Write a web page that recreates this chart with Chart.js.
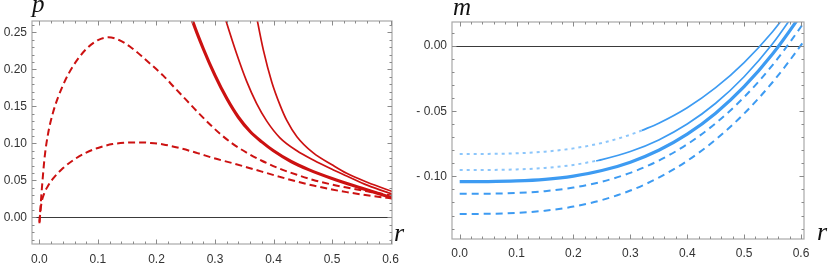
<!DOCTYPE html>
<html><head><meta charset="utf-8">
<script src="https://cdn.jsdelivr.net/npm/chart.js@4/dist/chart.umd.min.js"></script>
<style>
html,body{margin:0;padding:0;background:#fff;width:831px;height:263px;overflow:hidden;position:relative}
.wrap{position:absolute;top:0}
#w1{left:0;width:415px;height:263px}
#w2{left:410px;width:421px;height:263px}
.lab{position:absolute;font-family:"Liberation Serif","DejaVu Serif",serif;font-style:italic;font-size:25px;color:#111;line-height:25px;white-space:nowrap}
</style></head><body>
<div class="wrap" id="w1"><canvas id="c1" width="415" height="263"></canvas></div>
<div class="wrap" id="w2"><canvas id="c2" width="421" height="263"></canvas></div>
<span class="lab" style="left:32px;top:-9px">p</span>
<span class="lab" style="left:394px;top:220px;font-size:26px">r</span>
<span class="lab" style="left:453px;top:-6px">m</span>
<span class="lab" style="left:817px;top:219px;font-size:26px">r</span>
<script>
// ---------- tick labels ----------
const rTickVals = [0, 0.1, 0.2, 0.3, 0.4, 0.5, 0.6];
const rTickLabels = ["0.0", "0.1", "0.2", "0.3", "0.4", "0.5", "0.6"];
const rMinor = [0.02,0.04,0.06,0.08,0.12,0.14,0.16,0.18,0.22,0.24,0.26,0.28,0.32,0.34,0.36,0.38,0.42,0.44,0.46,0.48,0.52,0.54,0.56,0.58];
const pTickVals = [0, 0.05, 0.1, 0.15, 0.2, 0.25];
const pTickLabels = ["0.00", "0.05", "0.10", "0.15", "0.20", "0.25"];
const pMinor = [-0.03,-0.02,-0.01,0.01,0.02,0.03,0.04,0.06,0.07,0.08,0.09,0.11,0.12,0.13,0.14,0.16,0.17,0.18,0.19,0.21,0.22,0.23,0.24,0.26];
const mTickVals = [-0.1, -0.05, 0];
const mTickLabels = ["- 0.10", "- 0.05", "0.00"];
const mMinor = [-0.14,-0.13,-0.12,-0.11,-0.09,-0.08,-0.07,-0.06,-0.04,-0.03,-0.02,-0.01,0.01];

// ---------- left panel: p(r) ----------
const rDashBig = [0, 0.002, 0.005, 0.009, 0.015, 0.023, 0.04, 0.058, 0.08, 0.1, 0.1175, 0.135, 0.155, 0.18, 0.2116, 0.23, 0.2516, 0.27, 0.2915, 0.31, 0.331, 0.354, 0.38, 0.41, 0.44, 0.468, 0.5, 0.525, 0.56, 0.61];
const pDashBig = [-0.008, 0.016, 0.047, 0.082, 0.114, 0.141, 0.178, 0.205, 0.2275, 0.2395, 0.2432, 0.240, 0.2305, 0.2140, 0.1915, 0.176, 0.158, 0.1425, 0.1255, 0.112, 0.099, 0.0875, 0.0765, 0.066, 0.0575, 0.0505, 0.0443, 0.0403, 0.0352, 0.0285];
const rDashSmall = [0, 0.003, 0.008, 0.015, 0.025, 0.04, 0.06, 0.08, 0.1, 0.125, 0.15, 0.172, 0.19, 0.2116, 0.24, 0.27, 0.297, 0.33, 0.354, 0.38, 0.411, 0.44, 0.468, 0.5, 0.525, 0.56, 0.61];
const pDashSmall = [-0.006, 0.017, 0.032, 0.043, 0.054, 0.0662, 0.0785, 0.0875, 0.0938, 0.0990, 0.1010, 0.1013, 0.1005, 0.0985, 0.0935, 0.0868, 0.0802, 0.0732, 0.0678, 0.0618, 0.0547, 0.0484, 0.0430, 0.0376, 0.0341, 0.0299, 0.0247];
const rThick = [0.255, 0.2617, 0.28, 0.30, 0.32, 0.34, 0.36, 0.38, 0.40, 0.43, 0.46, 0.50, 0.55, 0.61];
const pThick = [0.282, 0.2653, 0.2278, 0.1918, 0.1608, 0.1352, 0.1160, 0.1020, 0.0900, 0.0755, 0.0645, 0.0525, 0.0395, 0.0245];
const rSolid2 = [0.314, 0.3189, 0.337, 0.354, 0.371, 0.3885, 0.411, 0.44, 0.468, 0.5, 0.525, 0.56, 0.61];
const pSolid2 = [0.278, 0.2653, 0.2210, 0.1840, 0.1540, 0.1300, 0.1075, 0.0900, 0.0775, 0.0650, 0.0560, 0.0435, 0.0295];
const rSolid3 = [0.369, 0.3725, 0.3827, 0.397, 0.411, 0.4227, 0.44, 0.468, 0.5, 0.525, 0.56, 0.61];
const pSolid3 = [0.280, 0.2653, 0.2260, 0.1830, 0.1520, 0.1310, 0.1090, 0.0870, 0.0710, 0.0595, 0.0475, 0.0330];

// ---------- right panel: m(r) ----------
const rA1 = [0, 0.05, 0.1, 0.15, 0.2, 0.25, 0.3, 0.32];
const mA1 = [-0.0828, -0.08274, -0.08228, -0.08102, -0.07851, -0.07433, -0.06803, -0.06482];
const rA2 = [0.32, 0.35, 0.4, 0.45, 0.5, 0.55, 0.6];
const mA2 = [-0.06482, -0.05917, -0.04729, -0.03195, -0.01268, 0.01098, 0.03948];
const rB1 = [0, 0.05, 0.1, 0.15, 0.2, 0.24];
const mB1 = [-0.0951, -0.09505, -0.09466, -0.09352, -0.09117, -0.08811];
const rB2 = [0.24, 0.25, 0.3, 0.35, 0.4, 0.45, 0.5, 0.55, 0.6];
const mB2 = [-0.08811, -0.08715, -0.08094, -0.07203, -0.05987, -0.04392, -0.02360, 0.00167, 0.03246];
const rC = [0, 0.05, 0.1, 0.15, 0.2, 0.25, 0.3, 0.35, 0.4, 0.45, 0.5, 0.55, 0.6, 0.61];
const mC = [-0.1040, -0.10394, -0.10350, -0.10226, -0.09975, -0.09551, -0.08906, -0.07991, -0.06756, -0.05150, -0.03121, -0.00620, 0.02409, 0.03082];
const rD = [0, 0.05, 0.1, 0.15, 0.2, 0.25, 0.3, 0.35, 0.4, 0.45, 0.5, 0.55, 0.6, 0.61];
const mD = [-0.1133, -0.11323, -0.11271, -0.11130, -0.10856, -0.10404, -0.09729, -0.08788, -0.07536, -0.05927, -0.03919, -0.01466, 0.01476, 0.02127];
const rE = [0, 0.05, 0.1, 0.15, 0.2, 0.25, 0.3, 0.35, 0.4, 0.45, 0.5, 0.55, 0.6, 0.61];
const mE = [-0.1288, -0.12869, -0.12802, -0.12631, -0.12315, -0.11812, -0.11085, -0.10095, -0.08805, -0.07179, -0.05183, -0.02781, 0.00061, 0.00686];

const RED = '#cc1111';
const BLUE = '#3d9bf2';
const LBLUE = '#8cc6fb';
const pts = (xs, ys) => xs.map((x, i) => ({x: x, y: ys[i]}));
const ds = (xs, ys, color, width, dash) => ({
  data: pts(xs, ys), borderColor: color, borderWidth: width, borderDash: dash || [],
  pointRadius: 0, fill: false, cubicInterpolationMode: 'monotone', clip: 0, borderCapStyle: 'butt'
});

const framePlugin = {
  id: 'frame',
  beforeDatasetsDraw(chart, args, o) {
    const {ctx, chartArea: a, scales} = chart;
    const y0 = Math.round(scales.y.getPixelForValue(0)) + 0.5;
    ctx.save();
    ctx.strokeStyle = '#3a3a3a'; ctx.lineWidth = 1;
    ctx.beginPath(); ctx.moveTo(a.left, y0); ctx.lineTo(a.right, y0); ctx.stroke();
    ctx.restore();
  },
  afterDatasetsDraw(chart, args, o) {
    const {ctx, chartArea: a, scales} = chart;
    const X = scales.x, Y = scales.y;
    ctx.save();
    ctx.strokeStyle = '#a8a8a8'; ctx.lineWidth = 1.2;
    ctx.strokeRect(a.left, a.top, a.right - a.left, a.bottom - a.top);
    ctx.strokeStyle = '#8a8a8a'; ctx.lineWidth = 1;
    const tick = (vals, len, isX) => {
      vals.forEach(v => {
        if (isX) {
          const px = Math.round(X.getPixelForValue(v)) + 0.5;
          ctx.beginPath();
          ctx.moveTo(px, a.bottom); ctx.lineTo(px, a.bottom - len);
          ctx.moveTo(px, a.top); ctx.lineTo(px, a.top + len);
          ctx.stroke();
        } else {
          const py = Math.round(Y.getPixelForValue(v)) + 0.5;
          ctx.beginPath();
          ctx.moveTo(a.left, py); ctx.lineTo(a.left + len, py);
          ctx.moveTo(a.right, py); ctx.lineTo(a.right - len, py);
          ctx.stroke();
        }
      });
    };
    tick(o.xMajor, 4.5, true); tick(o.xMinor, 2.5, true);
    tick(o.yMajor, 4.5, false); tick(o.yMinor, 2.5, false);
    ctx.restore();
  }
};

const tickFont = {family: '"Liberation Sans", Arial, sans-serif', size: 12};
function makeOptions(xr, yr, yVals, yLabels, yMinor, yWidth, pad) {
  return {
    responsive: false, animation: false, devicePixelRatio: 1,
    layout: {padding: {top: pad.top, right: pad.right, left: 0, bottom: 0}},
    plugins: {legend: {display: false}, tooltip: {enabled: false},
      frame: {xMajor: rTickVals, xMinor: rMinor, yMajor: yVals, yMinor: yMinor}},
    scales: {
      x: {type: 'linear', min: xr[0], max: xr[1],
        grid: {display: false, drawTicks: false}, border: {display: false},
        afterBuildTicks: s => { s.ticks = rTickVals.map(v => ({value: v})); },
        afterFit: s => { s.height = 263 - pad.top - pad.chartH; },
        ticks: {font: tickFont, color: '#333', padding: pad.xPad, maxRotation: 0, autoSkip: false,
          callback: (v) => rTickLabels[rTickVals.indexOf(v)] }},
      y: {type: 'linear', min: yr[0], max: yr[1],
        grid: {display: false, drawTicks: false}, border: {display: false},
        afterBuildTicks: s => { s.ticks = yVals.map(v => ({value: v})); },
        afterFit: s => { s.width = yWidth; },
        ticks: {font: tickFont, color: '#333', padding: 5, autoSkip: false,
          callback: (v) => yLabels[yVals.indexOf(v)] }}
    }
  };
}

new Chart(document.getElementById('c1'), {
  type: 'line',
  data: {datasets: [
    ds(rDashBig, pDashBig, RED, 2, [7, 4]),
    ds(rDashSmall, pDashSmall, RED, 2, [7, 4]),
    ds(rThick, pThick, RED, 3.2),
    ds(rSolid2, pSolid2, RED, 1.7),
    ds(rSolid3, pSolid3, RED, 1.7)
  ]},
  options: makeOptions([-0.0127, 0.6025], [-0.036, 0.2653], pTickVals, pTickLabels, pMinor, 32,
    {top: 21, right: 23, chartH: 223, xPad: 8}),
  plugins: [framePlugin]
});

new Chart(document.getElementById('c2'), {
  type: 'line',
  data: {datasets: [
    ds(rA1, mA1, LBLUE, 2, [3, 4]),
    ds(rA2, mA2, BLUE, 1.7),
    ds(rB1, mB1, LBLUE, 2, [3, 4]),
    ds(rB2, mB2, BLUE, 1.7),
    ds(rC, mC, BLUE, 3.2),
    ds(rD, mD, BLUE, 2, [7, 5]),
    ds(rE, mE, BLUE, 2, [7, 5])
  ]},
  options: makeOptions([-0.0135, 0.6053], [-0.148, 0.0184], mTickVals, mTickLabels, mMinor, 42,
    {top: 22, right: 27, chartH: 217, xPad: 7}),
  plugins: [framePlugin]
});
</script>
</body></html>
